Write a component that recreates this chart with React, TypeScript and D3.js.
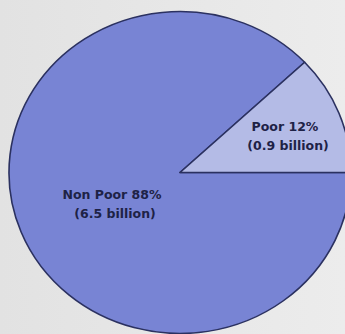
import React from "react";
import * as d3 from "d3";

const categories = ["Non Poor", "Poor"];
const shares = [88, 12];
const billions = ["6.5", "0.9"];
const colors = ["#7884d4", "#b4bbe6"];

const W = 345;
const H = 334;

export default function App() {
  const cx = 180;
  const cy = 172.5;
  const rx = 171;
  const ry = 161;
  // Poor slice ends at 3 o'clock; angles in d3 are clockwise from 12 o'clock
  const total = d3.sum(shares);
  const poorSpan = (shares[1] / total) * 2 * Math.PI;
  const pie = d3
    .pie<number>()
    .sort(null)
    .value((d) => d)
    .startAngle(Math.PI / 2)
    .endAngle(Math.PI / 2 + 2 * Math.PI);
  const arcs = pie(shares);
  const arc = d3.arc<d3.PieArcDatum<number>>().innerRadius(0).outerRadius(rx);

  const labels = [
    { x: 112, y: 199, lines: [`${categories[0]} ${shares[0]}%`, `(${billions[0]} billion)`], dx2: 3 },
    { x: 285, y: 131, lines: [`${categories[1]} ${shares[1]}%`, `(${billions[1]} billion)`], dx2: 3 },
  ];

  return (
    <svg
      width={W}
      height={H}
      style={{ position: "fixed", left: 0, top: 0, display: "block" }}
    >
      <defs>
        <linearGradient id="bg" x1="0" y1="0" x2="1" y2="0">
          <stop offset="0" stopColor="#e2e2e2" />
          <stop offset="1" stopColor="#ececec" />
        </linearGradient>
      </defs>
      <rect width={W} height={H} fill="url(#bg)" />
      <g transform={`translate(${cx},${cy}) scale(1,${ry / rx})`}>
        {arcs.map((a, i) => (
          <path
            key={i}
            d={arc(a) || ""}
            fill={colors[i]}
            stroke="#2b3160"
            strokeWidth={1.6}
            strokeLinejoin="round"
          />
        ))}
      </g>
      {labels.map((l, i) => (
        <text
          key={i}
          fontFamily="'DejaVu Sans', Verdana, sans-serif"
          fontWeight="bold"
          fontSize={12.5}
          fill="#1e2246"
          textAnchor="middle"
        >
          <tspan x={l.x} y={l.y}>{l.lines[0]}</tspan>
          <tspan x={l.x + l.dx2} y={l.y + 18.5}>{l.lines[1]}</tspan>
        </text>
      ))}
    </svg>
  );
}
